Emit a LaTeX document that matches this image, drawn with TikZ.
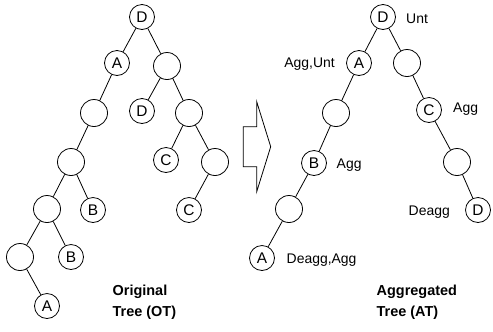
\documentclass[tikz,border=0pt]{standalone}
\usepackage{fontspec}
\setmainfont{Liberation Sans}
\begin{document}
\begin{tikzpicture}[x=1bp,y=-1bp,
  lab/.style={circle,draw,line width=0.8bp,minimum size=25bp,inner sep=0pt,font=\fontsize{15.5}{15.5}\selectfont},
  emp/.style={circle,draw,line width=0.8bp,minimum size=27bp,inner sep=0pt},
  edge/.style={line width=0.8bp},
  note/.style={font=\fontsize{14}{14}\selectfont,inner sep=0pt},
  title/.style={font=\bfseries\fontsize{14.5}{21.5}\selectfont,align=left,inner sep=0pt,anchor=base west}]
\useasboundingbox (0,0) rectangle (493,331);

% Original tree
\node[lab] (o1) at (142,17) {D};
\node[lab] (o2) at (117,63) {A};
\node[emp] (o3) at (167,66) {};
\node[emp] (o4) at (94,113) {};
\node[lab] (o5) at (142,111) {D};
\node[emp] (o6) at (189,113) {};
\node[emp] (o7) at (71,162) {};
\node[lab] (o8) at (166,160) {C};
\node[emp] (o9) at (215,162) {};
\node[emp] (o10) at (47,209) {};
\node[lab] (o11) at (93,210) {B};
\node[lab] (o12) at (189,210) {C};
\node[emp] (o13) at (20,257) {};
\node[lab] (o14) at (71,257) {B};
\node[lab] (o15) at (47,306) {A};
\foreach \a/\b in {o1/o2,o1/o3,o2/o4,o4/o7,o7/o10,o7/o11,o10/o13,o10/o14,o13/o15,
                   o3/o5,o3/o6,o6/o8,o6/o9,o9/o12}
  \draw[edge] (\a) -- (\b);
\node[title] (ot) at (112.5,316.5) {Original\\Tree (OT)};

% Block arrow between the trees
\draw[line width=0.8bp] (243.3,126.7) -- (256.7,126.7) -- (256.7,101.7) -- (270.7,146.7)
  -- (256.7,191.7) -- (256.7,166.7) -- (243.3,166.7) -- cycle;

% Aggregated tree
\node[lab] (a1) at (383,17) {D};
\node[lab] (a2) at (359,63) {A};
\node[emp] (a3) at (407,63) {};
\node[emp] (a4) at (336,113) {};
\node[lab] (a5) at (429,110) {C};
\node[lab] (a6) at (314,163) {B};
\node[emp] (a7) at (457,162) {};
\node[emp] (a8) at (289,209) {};
\node[lab] (a9) at (478,210) {D};
\node[lab] (a10) at (262,258) {A};
\foreach \a/\b in {a1/a2,a1/a3,a2/a4,a4/a6,a6/a8,a8/a10,a3/a5,a5/a7,a7/a9}
  \draw[edge] (\a) -- (\b);

\node[note,anchor=base west] (n1) at (406,23) {Unt};
\node[note,anchor=base east] (n2) at (335,67) {Agg,Unt};
\node[note,anchor=base west] (n3) at (453,112) {Agg};
\node[note,anchor=base west] (n4) at (336.5,168) {Agg};
\node[note,anchor=base east] (n5) at (450,215) {Deagg};
\node[note,anchor=base west] (n6) at (286.5,263) {Deagg,Agg};
\node[title] (at) at (376.5,316.5) {Aggregated\\Tree (AT)};
\end{tikzpicture}
\end{document}
